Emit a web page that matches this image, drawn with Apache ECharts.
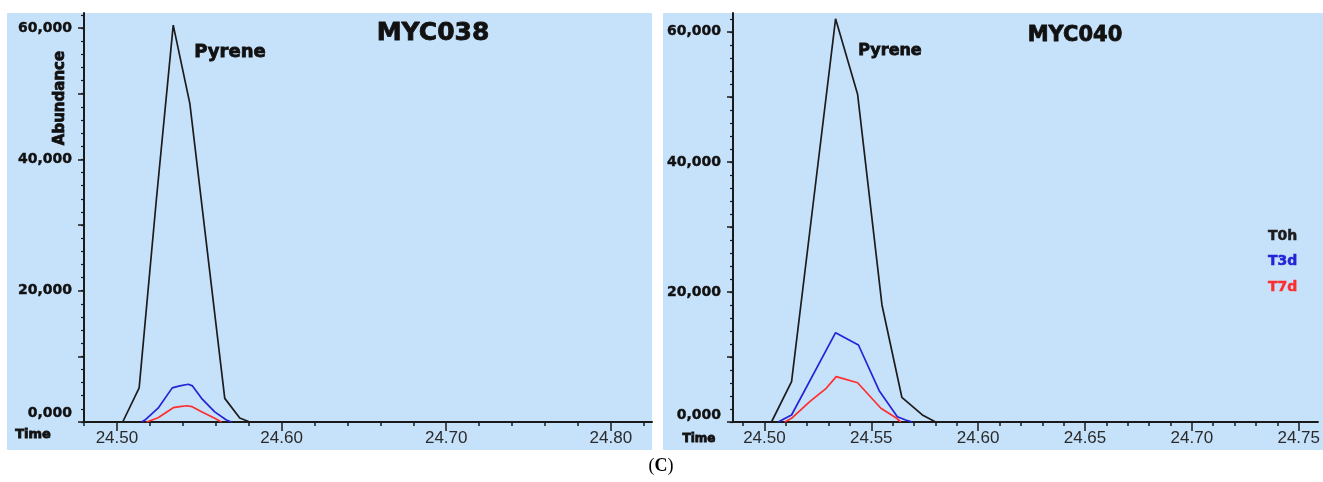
<!DOCTYPE html>
<html>
<head>
<meta charset="utf-8">
<script src="https://cdn.jsdelivr.net/npm/echarts@6/dist/echarts.min.js"></script>
<style>
  html, body { margin: 0; padding: 0; background: #fff; }
  #chart { width: 1323px; height: 482px; }
</style>
</head>
<body>
<div id="chart"></div>
<script>
// MYC038 (left) - retention time (min) and abundance
var t038_T0h = [24.5035, 24.5135, 24.5240, 24.5342, 24.5443, 24.5655, 24.5746, 24.5807];
var v038_T0h = [0, 5200, 34000, 60450, 48500, 3600, 600, 0];
var t038_T3d = [24.5150, 24.5170, 24.5250, 24.5336, 24.5382, 24.5433, 24.5459, 24.5514, 24.5594, 24.5665, 24.5696];
var v038_T3d = [0, 300, 2100, 5200, 5500, 5750, 5500, 3600, 1550, 300, 0];
var t038_T7d = [24.5180, 24.5250, 24.5342, 24.5382, 24.5423, 24.5457, 24.5514, 24.5594, 24.5635];
var v038_T7d = [0, 650, 2180, 2330, 2480, 2330, 1570, 560, 0];

// MYC040 (right)
var t040_T0h = [24.5033, 24.5127, 24.5230, 24.5333, 24.5436, 24.5550, 24.5643, 24.5739, 24.5801];
var v040_T0h = [0, 6200, 34100, 62000, 50400, 18000, 3800, 1080, 0];
var t040_T3d = [24.5064, 24.5127, 24.5333, 24.5440, 24.5537, 24.5622, 24.5661, 24.5692];
var v040_T3d = [0, 1080, 13730, 11840, 4810, 820, 300, 0];
var t040_T7d = [24.5095, 24.5127, 24.5212, 24.5289, 24.5336, 24.5436, 24.5545, 24.5615, 24.5638];
var v040_T7d = [0, 570, 3120, 5180, 6970, 6040, 2110, 660, 0];

// axis ticks and labels
var x038Major = [24.50, 24.60, 24.70, 24.80];
var x038Minor = [24.48, 24.50, 24.52, 24.54, 24.56, 24.58, 24.60, 24.62, 24.64, 24.66, 24.68, 24.70, 24.72, 24.74, 24.76, 24.78, 24.80, 24.82];
var x040Major = [24.50, 24.55, 24.60, 24.65, 24.70, 24.75];
var x040Minor = [24.49, 24.50, 24.51, 24.52, 24.53, 24.54, 24.55, 24.56, 24.57, 24.58, 24.59, 24.60, 24.61, 24.62, 24.63, 24.64, 24.65, 24.66, 24.67, 24.68, 24.69, 24.70, 24.71, 24.72, 24.73, 24.74, 24.75];
var yLabels = [0, 20000, 40000, 60000];
var yMidTicks = [0, 10000, 20000, 30000, 40000, 50000, 60000];
var ySmallTicks = [0, 2000, 4000, 6000, 8000, 10000, 12000, 14000, 16000, 18000, 20000, 22000, 24000, 26000, 28000, 30000, 32000, 34000, 36000, 38000, 40000, 42000, 44000, 46000, 48000, 50000, 52000, 54000, 56000, 58000, 60000, 62000];

var seriesNames = ['T0h', 'T3d', 'T7d'];
var seriesColors = ['#1c1c1c', '#2424d6', '#ff2e2e'];

function zip(t, v) {
    return t.map(function (x, i) { return [x, v[i]]; });
}

var axisColor = '#1a1a1a';
var boldFont = 'DejaVu Sans';

function mainX(grid, min, max, major) {
    return {
        type: 'value', gridIndex: grid, min: min, max: max, position: 'bottom',
        axisLine: { lineStyle: { color: axisColor, width: 2 } },
        axisTick: { customValues: major, length: 9, lineStyle: { color: axisColor, width: 1.5 } },
        axisLabel: {
            customValues: major, margin: 8, color: '#2a2a2a',
            fontFamily: 'Liberation Sans', fontSize: 17,
            formatter: function (v) { return v.toFixed(2); }
        },
        splitLine: { show: false }
    };
}
function minorX(grid, min, max, minor) {
    return {
        type: 'value', gridIndex: grid, min: min, max: max, position: 'bottom',
        axisLine: { show: false },
        axisTick: { customValues: minor, length: 4, lineStyle: { color: axisColor, width: 1.5 } },
        axisLabel: { show: false },
        splitLine: { show: false }
    };
}
function mainY(grid, max, lift) {
    return {
        type: 'value', gridIndex: grid, min: 0, max: max, position: 'left',
        axisLine: { show: true, lineStyle: { color: axisColor, width: 2 } },
        axisTick: { show: true, customValues: yMidTicks, length: 6, lineStyle: { color: axisColor, width: 1.5 } },
        axisLabel: {
            customValues: yLabels, margin: 12, color: '#111',
            fontFamily: boldFont, fontWeight: 'bold', fontSize: 14,
            textBorderColor: '#111', textBorderWidth: 0.4,
            formatter: function (v) {
                return v === 0 ? '{z|0,000}' : v.toLocaleString('en-US');
            },
            rich: { z: { fontFamily: boldFont, fontWeight: 'bold', fontSize: 14, color: '#111', textBorderColor: '#111', textBorderWidth: 0.4, padding: [0, 0, lift, 0] } }
        },
        splitLine: { show: false }
    };
}
function minorY(grid, max) {
    return {
        type: 'value', gridIndex: grid, min: 0, max: max, position: 'left',
        axisLine: { show: false },
        axisTick: { show: true, customValues: ySmallTicks, length: 3, lineStyle: { color: axisColor, width: 1.2 } },
        axisLabel: { show: false },
        splitLine: { show: false }
    };
}
function lineSeries(idx, name, color, data) {
    return {
        name: name, type: 'line', xAxisIndex: idx, yAxisIndex: idx,
        data: data, symbol: 'none', smooth: false, animation: false,
        lineStyle: { color: color, width: 1.7 }, itemStyle: { color: color }
    };
}
function heavyText(x, y, text, size, rot) {
    return {
        type: 'text', x: x, y: y, rotation: rot || 0,
        style: {
            text: text, fontFamily: boldFont, fontWeight: 'bold', fontSize: size,
            fill: '#111', stroke: '#111', lineWidth: 0.8,
            align: 'center', verticalAlign: 'middle'
        }
    };
}

var chart = echarts.init(document.getElementById('chart'));
chart.setOption({
    backgroundColor: '#ffffff',
    animation: false,
    grid: [
        { left: 84, right: 671, top: 13, bottom: 60 },
        { left: 733, right: 1, top: 13, bottom: 60 }
    ],
    xAxis: [
        mainX(0, 24.48, 24.825, x038Major),
        mainX(1, 24.4853, 24.759, x040Major),
        minorX(0, 24.48, 24.825, x038Minor),
        minorX(1, 24.4853, 24.759, x040Minor)
    ],
    yAxis: [
        mainY(0, 62300, 18),
        mainY(1, 62900, 14),
        minorY(0, 62300),
        minorY(1, 62900)
    ],
    legend: {
        data: seriesNames.map(function (n, i) {
            return { name: n, textStyle: { color: seriesColors[i], textBorderColor: seriesColors[i], textBorderWidth: 0.5 } };
        }),
        orient: 'vertical', left: 1263, top: 229, padding: 0,
        icon: 'none', itemWidth: 0, itemHeight: 14, itemGap: 11,
        selectedMode: false,
        textStyle: { fontFamily: boldFont, fontWeight: 'bold', fontSize: 14 }
    },
    graphic: [
        { type: 'rect', z: -10, silent: true, shape: { x: 7, y: 13, width: 645, height: 437 }, style: { fill: '#c6e1fa' } },
        { type: 'rect', z: -10, silent: true, shape: { x: 663, y: 13, width: 660, height: 437 }, style: { fill: '#c6e1fa' } },
        heavyText(433, 33, 'MYC038', 25),
        heavyText(1075, 36, 'MYC040', 21),
        heavyText(230, 52, 'Pyrene', 18),
        heavyText(890, 51, 'Pyrene', 16),
        heavyText(60, 98, 'Abundance', 15, Math.PI / 2),
        heavyText(33, 435, 'Time', 13),
        heavyText(699, 439, 'Time', 12),
        { type: 'text', x: 661, y: 466, style: {
            text: '({b|C})', fontFamily: 'Liberation Serif', fontSize: 18, fill: '#000', align: 'center', verticalAlign: 'middle',
            rich: { b: { fontFamily: 'Liberation Serif', fontWeight: 'bold', fontSize: 18, fill: '#000' } }
        } }
    ],
    series: [
        lineSeries(0, 'T0h', seriesColors[0], zip(t038_T0h, v038_T0h)),
        lineSeries(0, 'T3d', seriesColors[1], zip(t038_T3d, v038_T3d)),
        lineSeries(0, 'T7d', seriesColors[2], zip(t038_T7d, v038_T7d)),
        lineSeries(1, 'T0h', seriesColors[0], zip(t040_T0h, v040_T0h)),
        lineSeries(1, 'T3d', seriesColors[1], zip(t040_T3d, v040_T3d)),
        lineSeries(1, 'T7d', seriesColors[2], zip(t040_T7d, v040_T7d))
    ]
});
</script>
</body>
</html>
